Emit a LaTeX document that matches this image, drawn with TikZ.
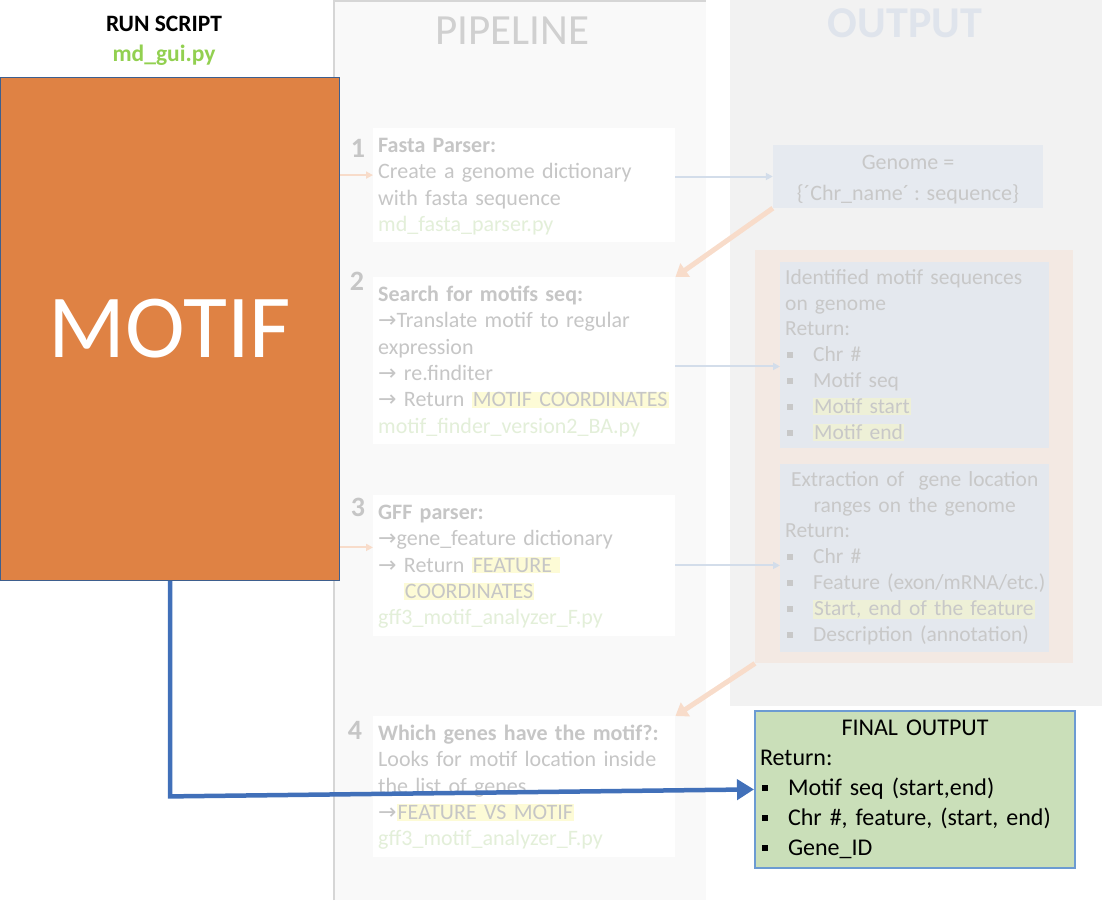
\documentclass[tikz,border=0pt]{standalone}
\usepackage{fontspec}
\setmainfont{Carlito}
\newfontfamily\arrowfont{DejaVu Sans}
\usetikzlibrary{arrows.meta,positioning}
\definecolor{cpanel}{HTML}{F9F9F9}
\definecolor{cline}{HTML}{D6D6D6}
\definecolor{coutpanel}{HTML}{F2F2F2}
\definecolor{corange}{HTML}{DF8244}
\definecolor{cedge}{HTML}{3E5F8E}
\definecolor{cfade}{HTML}{C6C6C6}
\definecolor{cfgreen}{HTML}{E3EFD9}
\definecolor{chl}{HTML}{FDFBD6}
\definecolor{chlout}{HTML}{EEF0D7}
\definecolor{cgen}{HTML}{E6EAF0}
\definecolor{cbox}{HTML}{E4E8EE}
\definecolor{cpeach}{HTML}{F3E9E3}
\definecolor{cofade}{HTML}{C8C8C8}
\definecolor{cfblue}{HTML}{D3DDEA}
\definecolor{cforange}{HTML}{F8DCCA}
\definecolor{cfin}{HTML}{CADFB9}
\definecolor{cfinedge}{HTML}{6C9BD2}
\definecolor{cblue}{HTML}{4170B9}
\definecolor{cgreen}{HTML}{92D050}
\definecolor{chead}{HTML}{D0D0D0}
\definecolor{cout}{HTML}{DFE4EC}

\newcommand\ra{{\arrowfont →}}
\newcommand\hlt[1]{{\setlength{\fboxsep}{1pt}\colorbox{chl}{#1}}}
\newcommand\hltout[1]{{\setlength{\fboxsep}{1pt}\colorbox{chlout}{#1}}}
\newcommand\sqb{\raisebox{0.18em}{\rule{0.27em}{0.27em}}}
\newcommand\bitem[1]{\makebox[28pt][l]{\hspace{1.5pt}\sqb}\mbox{#1}}
\newcommand\steptitle[1]{\rule{0pt}{17pt}\textbf{#1}}

\tikzset{
  stepbox/.style={fill=white, anchor=north west, inner xsep=5pt, inner ysep=7pt,
    text width=292pt, align=left, text=cfade, font=\fontsize{22}{26.4}\selectfont},
  num/.style={text=cfade, inner sep=0pt, font=\bfseries\fontsize{28}{28}\selectfont},
  outbox/.style={fill=cbox, anchor=north west, inner xsep=5pt, inner ysep=7pt,
    text width=259pt, align=left, text=cofade, font=\fontsize{21.5}{25.9}\selectfont},
  fblue/.style={draw=cfblue, line width=2pt, -{Triangle[length=7pt,width=7pt]}},
  forange/.style={draw=cforange, line width=2pt, -{Triangle[length=7pt,width=7pt]}},
  fbig/.style={draw=cforange, line width=5pt, -{Triangle[length=12pt,width=16pt]}},
  bigblue/.style={draw=cblue, line width=4.5pt, -{Triangle[length=17pt,width=20pt]}}
}

\begin{document}
\begin{tikzpicture}[x=1pt, y=-1pt]
    \useasboundingbox (0,0) rectangle (1102,900);
    \fill[cpanel] (333,0) rectangle (706,900);
    \draw[cline, line width=2pt] (334,900) -- (334,1) -- (706,1);
    \fill[coutpanel] (730,0) rectangle (1102,706);

    \node[font=\bfseries\fontsize{23.5}{23.5}\selectfont] (run) at (164,24) {RUN SCRIPT};
    \node[text=cgreen, font=\bfseries\fontsize{23.5}{23.5}\selectfont] (gui) at (164,55) {md\_gui.py};
    \node[text=chead, font=\fontsize{43}{43}\selectfont] (pipe) at (512,31) {PIPELINE};
    \node[text=cout, font=\bfseries\fontsize{44}{44}\selectfont] (outp) at (905,23) {OUTPUT};

    \node[fill=corange, draw=cedge, line width=1pt, anchor=north west, minimum width=339pt,
        minimum height=503pt, text=white, font=\fontsize{90}{90}\selectfont] (motif) at (0,77) {MOTIF};

    \node[stepbox] (s1) at (373,128) {\steptitle{Fasta Parser:}\\ Create a genome dictionary\\ with fasta sequence\\
        \textcolor{cfgreen}{md\_fasta\_parser.py}};
    \node[stepbox] (s2) at (373,277) {\steptitle{Search for motifs seq:}\\ \ra Translate motif to regular\\ expression\\
        \ra\ re.finditer\\ \ra\ Return \hlt{MOTIF COORDINATES}\\ \textcolor{cfgreen}{motif\_finder\_version2\_BA.py}};
    \node[stepbox] (s3) at (373,495) {\steptitle{GFF parser:}\\ \ra gene\_feature dictionary\\ \ra\ Return \hlt{FEATURE }\\
        \phantom{\ra\ }\hlt{COORDINATES}\\ \textcolor{cfgreen}{gff3\_motif\_analyzer\_F.py}};
    \node[stepbox] (s4) at (373,716) {\steptitle{Which genes have the motif?:}\\ Looks for motif location inside\\
        the list of genes\\ \ra\hlt{FEATURE VS MOTIF}\\ \textcolor{cfgreen}{gff3\_motif\_analyzer\_F.py}};
    \node[num] (n1) at (358,148) {1};
    \node[num] (n2) at (357,281) {2};
    \node[num] (n3) at (358,507) {3};
    \node[num] (n4) at (355,730) {4};

    \node[fill=cgen, minimum width=270pt, minimum height=63pt, align=center, text=cofade,
        font=\fontsize{22}{31}\selectfont] (gen) at (908,176.5) {\rule{0pt}{21pt}Genome =\\ \{´Chr\_name´ : sequence\}};
    \node[fill=cpeach, anchor=north west, inner sep=0pt, minimum width=318pt, minimum height=413pt] (frm) at (755,250) {};
    \node[outbox] (mot) at (780,262) {Identified motif sequences\\ on genome\\ Return:\\ \bitem{Chr \#}\\
        \bitem{Motif seq}\\ \bitem{\hltout{Motif start}}\\ \bitem{\hltout{Motif end}}};
    \node[outbox] (ext) at (780,464) {\makebox[259pt]{Extraction of\ \ gene location}\\ \makebox[259pt]{ranges on the genome}\\
        Return:\\ \bitem{Chr \#}\\ \bitem{Feature (exon/mRNA/etc.)}\\ \bitem{\hltout{Start, end of the feature}}\\
        \bitem{Description (annotation)}};

    \node[fill=cfin, draw=cfinedge, line width=2pt, anchor=north west, inner xsep=5pt, inner ysep=9pt,
        text width=310pt, align=left, font=\fontsize{24}{30}\selectfont] (fin) at (754,710)
        {\makebox[310pt]{FINAL OUTPUT}\\ Return:\\ \bitem{Motif seq (start,end)}\\
        \bitem{Chr \#, feature, (start, end)}\\ \bitem{Gene\_ID}};

    \draw[forange] ([yshift=10pt]s1.west -| motif.east) -- ([yshift=10pt]s1.west);
    \draw[forange] ([yshift=18pt]s3.west -| motif.east) -- ([yshift=18pt]s3.west);
    \draw[fblue] (s1.east |- gen.west) -- (gen.west);
    \draw[fblue] ([yshift=-6pt]s2.east) -- ([yshift=-6pt]s2.east -| mot.west);
    \draw[fblue] (s3.east) -- (s3.east -| ext.west);
    \draw[fbig] (gen.south west) -- (s2.north east);
    \draw[fbig] (frm.south west) -- (s4.north east);

    \draw[bigblue] (motif.south) -- ([yshift=-7pt]motif.south |- fin.west) -- (fin.west);
\end{tikzpicture}
\end{document}
